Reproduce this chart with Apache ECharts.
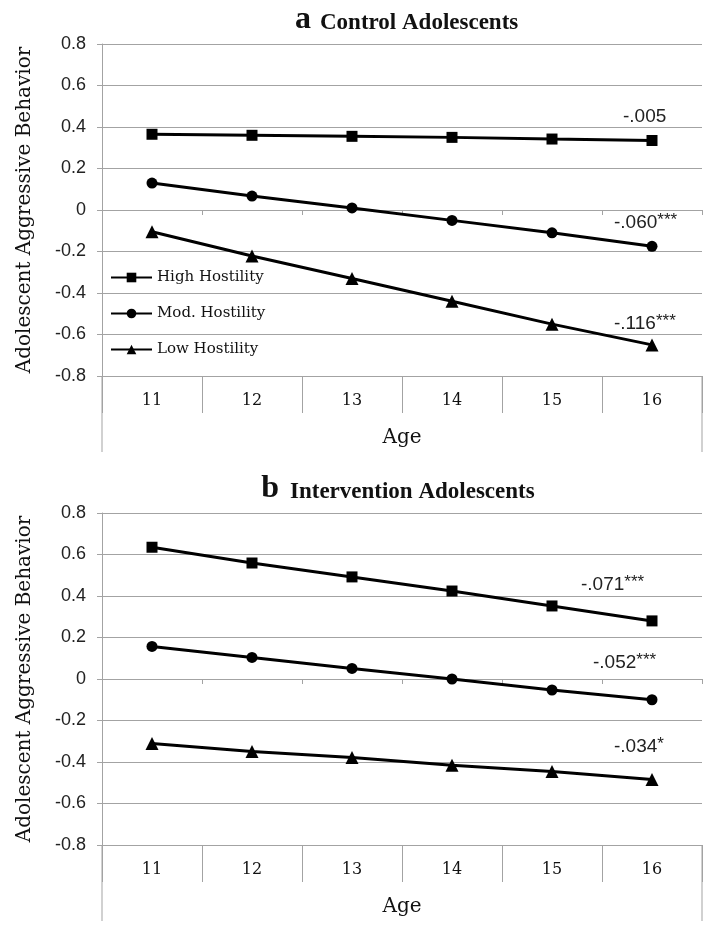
<!DOCTYPE html>
<html>
<head>
<meta charset="utf-8">
<script src="https://cdn.jsdelivr.net/npm/echarts@6/dist/echarts.min.js"></script>
<style>
html,body{margin:0;padding:0;background:#fff;}
#c{width:714px;height:938px;}
</style>
</head>
<body>
<div id="c"></div>
<script>
// ---- data ----
const ages = ['11', '12', '13', '14', '15', '16'];
const seriesNames = ['High Hostility', 'Mod. Hostility', 'Low Hostility'];
const ctrlHigh = [0.365, 0.36, 0.355, 0.35, 0.342, 0.335];
const ctrlMod = [0.13, 0.067, 0.01, -0.05, -0.11, -0.175];
const ctrlLow = [-0.105, -0.222, -0.33, -0.44, -0.55, -0.65];
const intHigh = [0.635, 0.559, 0.492, 0.424, 0.352, 0.28];
const intMod = [0.157, 0.104, 0.051, 0.0, -0.053, -0.10];
const intLow = [-0.311, -0.349, -0.378, -0.416, -0.446, -0.484];
const ctrlSlopes = ['-.005', '-.060', '-.116'];
const ctrlSig = ['', '***', '***'];
const intSlopes = ['-.071', '-.052', '-.034'];
const intSig = ['***', '***', '*'];
const panelLetters = ['a', 'b'];
const panelTitles = ['Control Adolescents', 'Intervention Adolescents'];
const yMin = -0.8, yMax = 0.8, yStep = 0.2;

// ---- styling / layout ----
const SANS = '"Liberation Sans", Arial, sans-serif';
const SERIF = '"DejaVu Serif", serif';
const TSERIF = '"Liberation Serif", "Times New Roman", serif';
const GRIDC = '#a3a3a3';
const symbols = ['rect', 'circle', 'triangle'];
const panels = [
  { top: 44, height: 332, letterX: 311, textX: 320, ann: [[623, 117], [614, 223], [614, 324]] },
  { top: 513, height: 332, letterX: 279, textX: 290, ann: [[581, 585], [593, 663], [614, 747]] }
];
const L = 102, R = 702;

const chart = echarts.init(document.getElementById('c'), null, { renderer: 'canvas' });

const grids = [], xAxes = [], yAxes = [], series = [], graphics = [];
const panelData = [[ctrlHigh, ctrlMod, ctrlLow], [intHigh, intMod, intLow]];
const panelSlopes = [[ctrlSlopes, ctrlSig], [intSlopes, intSig]];

panels.forEach((p, i) => {
  grids.push({ left: L, width: R - L, top: p.top, height: p.height, containLabel: false });
  // main category axis with labels at bottom
  xAxes.push({
    type: 'category', gridIndex: i, data: ages, position: 'bottom', boundaryGap: true,
    axisLine: { onZero: false, lineStyle: { color: GRIDC, width: 1 } },
    axisTick: { show: true, interval: 0, length: 37, lineStyle: { color: GRIDC } },
    axisLabel: { interval: 0, margin: 17, color: '#111', fontFamily: SERIF, fontSize: 16 },
    name: 'Age', nameLocation: 'middle', nameGap: 52,
    nameTextStyle: { fontFamily: SERIF, fontSize: 20, color: '#111', verticalAlign: 'top' }
  });
  // axis across zero with small ticks
  xAxes.push({
    type: 'category', gridIndex: i, data: ages, position: 'top', boundaryGap: true,
    axisLine: { onZero: true, lineStyle: { color: GRIDC, width: 1 } },
    axisTick: { show: true, interval: 0, inside: true, length: 5, lineStyle: { color: GRIDC } },
    axisLabel: { show: false }
  });
  yAxes.push({
    type: 'value', gridIndex: i, min: yMin, max: yMax, interval: yStep,
    axisLine: { show: true, lineStyle: { color: GRIDC } },
    axisTick: { show: true, length: 5, lineStyle: { color: GRIDC } },
    splitLine: { show: true, lineStyle: { color: GRIDC, width: 1 } },
    axisLabel: { margin: 16, color: '#222', fontFamily: SANS, fontSize: 18,
      formatter: v => (Math.abs(v) < 1e-9 ? '0' : String(Math.round(v * 10) / 10)) },
    name: 'Adolescent Aggressive Behavior', nameLocation: 'middle', nameRotate: 90, nameGap: 67,
    nameTextStyle: { fontFamily: SERIF, fontSize: 20, color: '#111' }
  });
  panelData[i].forEach((d, k) => {
    series.push({
      name: seriesNames[k], type: 'line', xAxisIndex: i * 2, yAxisIndex: i, data: d,
      symbol: symbols[k], symbolSize: k === 2 ? 13 : 11, showSymbol: true,
      lineStyle: { color: '#000', width: 3 }, itemStyle: { color: '#000' },
      emphasis: { disabled: true }, silent: true, z: 5
    });
    const [sl, sg] = [panelSlopes[i][0][k], panelSlopes[i][1][k]];
    graphics.push({
      type: 'text', x: p.ann[k][0], y: p.ann[k][1], z: 10,
      style: {
        text: '{m|' + sl + '}' + (sg ? '{s|' + sg + '}' : ''),
        verticalAlign: 'middle', align: 'left',
        rich: {
          m: { fontFamily: SANS, fontSize: 19, fill: '#222', lineHeight: 22 },
          s: { fontFamily: SANS, fontSize: 17, fill: '#222', verticalAlign: 'top', lineHeight: 15 }
        }
      }
    });
  });
  // outer frame lines under the label band
  [L, R].forEach(x => graphics.push({
    type: 'line', shape: { x1: x, y1: p.top + p.height, x2: x, y2: p.top + p.height + 76 },
    style: { stroke: GRIDC, lineWidth: 1 }, z: 1
  }));
  // panel title: bold letter + bold caption
  graphics.push({
    type: 'text', x: p.letterX, y: p.top - 24, z: 10,
    style: { text: panelLetters[i], align: 'right', verticalAlign: 'middle',
      font: 'bold 32px ' + TSERIF, fill: '#111' }
  });
  graphics.push({
    type: 'text', x: p.textX, y: p.top - 21, z: 10,
    style: { text: panelTitles[i], align: 'left', verticalAlign: 'middle',
      font: 'bold 23px ' + TSERIF, fill: '#111' }
  });
});

chart.setOption({
  animation: false,
  backgroundColor: '#fff',
  grid: grids,
  xAxis: xAxes,
  yAxis: yAxes,
  legend: {
    data: seriesNames, orient: 'vertical', left: 105, top: 265,
    itemWidth: 41, itemHeight: 12, itemGap: 21,
    textStyle: { fontFamily: SERIF, fontSize: 15, color: '#111' },
    selectedMode: false
  },
  series: series,
  graphic: graphics
});
</script>
</body>
</html>
